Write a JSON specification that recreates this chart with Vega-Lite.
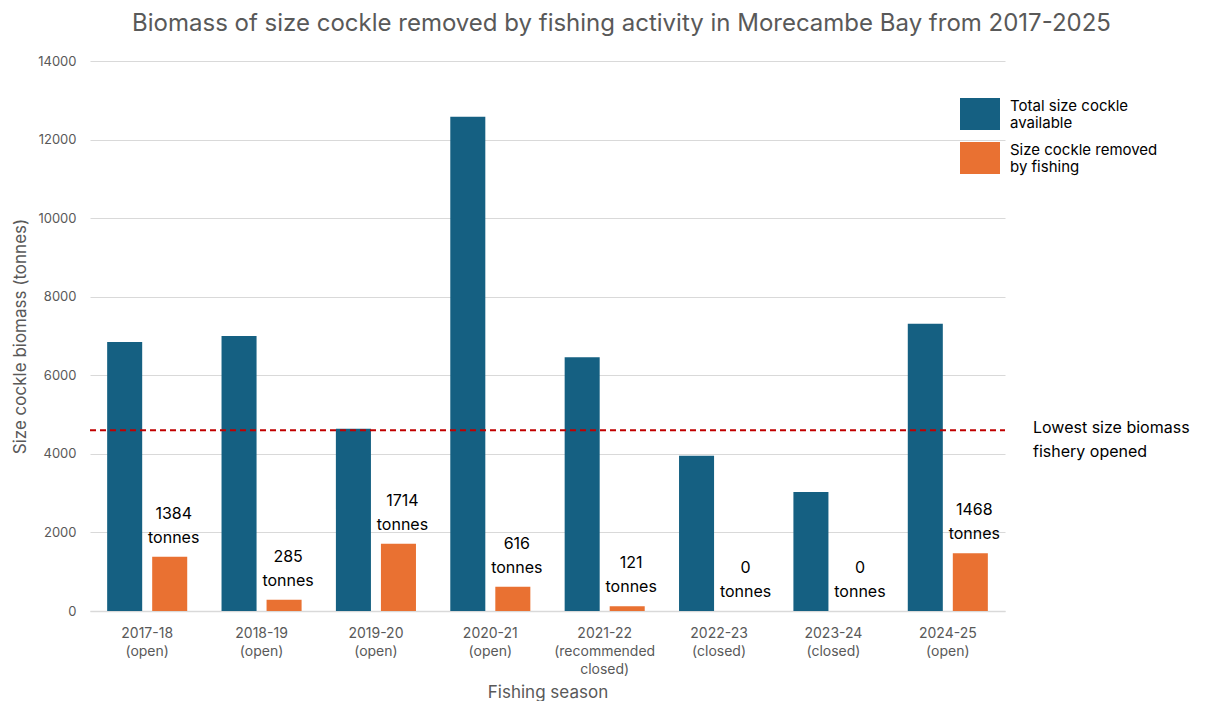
{
  "$schema": "https://vega.github.io/schema/vega-lite/v6.json",
  "width": 915,
  "height": 550,
  "autosize": {"type": "none"},
  "padding": {"left": 90, "top": 61, "right": 211, "bottom": 90},
  "background": "white",
  "config": {"font": "Inter", "view": {"stroke": null}},
  "title": {
    "text": "Biomass of size cockle removed by fishing activity in Morecambe Bay from 2017-2025",
    "fontSize": 24, "fontWeight": "normal", "color": "#595959",
    "anchor": "middle", "dx": 74, "baseline": "alphabetic", "offset": 0
  },
  "data": {"values": [
    {"season": "2017-18|(open)", "series": "Total size cockle available", "value": 6850},
    {"season": "2017-18|(open)", "series": "Size cockle removed by fishing", "value": 1384},
    {"season": "2018-19|(open)", "series": "Total size cockle available", "value": 7000},
    {"season": "2018-19|(open)", "series": "Size cockle removed by fishing", "value": 285},
    {"season": "2019-20|(open)", "series": "Total size cockle available", "value": 4640},
    {"season": "2019-20|(open)", "series": "Size cockle removed by fishing", "value": 1714},
    {"season": "2020-21|(open)", "series": "Total size cockle available", "value": 12580},
    {"season": "2020-21|(open)", "series": "Size cockle removed by fishing", "value": 616},
    {"season": "2021-22|(recommended|closed)", "series": "Total size cockle available", "value": 6460},
    {"season": "2021-22|(recommended|closed)", "series": "Size cockle removed by fishing", "value": 121},
    {"season": "2022-23|(closed)", "series": "Total size cockle available", "value": 3950},
    {"season": "2022-23|(closed)", "series": "Size cockle removed by fishing", "value": 0},
    {"season": "2023-24|(closed)", "series": "Total size cockle available", "value": 3030},
    {"season": "2023-24|(closed)", "series": "Size cockle removed by fishing", "value": 0},
    {"season": "2024-25|(open)", "series": "Total size cockle available", "value": 7310},
    {"season": "2024-25|(open)", "series": "Size cockle removed by fishing", "value": 1468}
  ]},
  "encoding": {
    "x": {
      "field": "season", "type": "nominal", "sort": null,
      "scale": {"paddingInner": 0.3, "paddingOuter": 0.15},
      "axis": {
        "title": "Fishing season", "titleFontSize": 17, "titleFontWeight": "normal", "titleColor": "#595959", "titlePadding": 8,
        "labelAngle": 0, "labelExpr": "split(datum.value, '|')", "labelFontSize": 14, "labelColor": "#595959",
        "labelLineHeight": 18, "labelPadding": 15, "ticks": false, "domainColor": "#d9d9d9", "domainWidth": 1.5
      }
    }
  },
  "layer": [
    {
      "mark": {"type": "bar"},
      "encoding": {
        "xOffset": {"field": "series", "type": "nominal", "sort": ["Total size cockle available", "Size cockle removed by fishing"], "scale": {"paddingInner": 0.222, "paddingOuter": 0}},
        "y": {
          "field": "value", "type": "quantitative",
          "scale": {"domain": [0, 14000], "nice": false},
          "axis": {
            "title": "Size cockle biomass (tonnes)", "titleFontSize": 17, "titleFontWeight": "normal", "titleColor": "#595959", "titlePadding": 8,
            "values": [0, 2000, 4000, 6000, 8000, 10000, 12000, 14000], "format": "d",
            "labelFontSize": 13, "labelColor": "#595959", "labelPadding": 14, "ticks": false, "domain": false,
            "gridColor": "#d9d9d9", "gridWidth": 1
          }
        },
        "color": {
          "field": "series", "type": "nominal",
          "scale": {"domain": ["Total size cockle available", "Size cockle removed by fishing"], "range": ["#156082", "#e97132"]},
          "legend": {
            "title": null, "orient": "none", "legendX": 874, "legendY": 37,
            "symbolType": "M-1.25,-1H1.25V1H-1.25Z", "symbolSize": 1024, "symbolStrokeWidth": 0, "symbolOpacity": 1,
            "labelExpr": "datum.label == 'Total size cockle available' ? ['Total size cockle', 'available'] : ['Size cockle removed', 'by fishing']",
            "labelFontSize": 15, "labelColor": "#000000", "labelBaseline": "bottom", "labelOffset": 14, "labelLimit": 300, "rowPadding": 11
          }
        }
      }
    },
    {
      "transform": [
        {"filter": "datum.series == 'Size cockle removed by fishing'"},
        {"calculate": "datum.value + '\\ntonnes'", "as": "label"}
      ],
      "mark": {"type": "text", "fontSize": 16, "color": "#000000", "baseline": "bottom", "dy": -35, "dx": 4, "lineBreak": "\n", "lineHeight": 24},
      "encoding": {
        "xOffset": {"field": "series", "type": "nominal", "sort": ["Total size cockle available", "Size cockle removed by fishing"], "scale": {"paddingInner": 0.222, "paddingOuter": 0}},
        "y": {"field": "value", "type": "quantitative"},
        "text": {"field": "label"}
      }
    },
    {
      "data": {"values": [{"threshold": 4600}]},
      "mark": {"type": "rule", "color": "#c00000", "strokeWidth": 2, "strokeDash": [6, 4]},
      "encoding": {"y": {"field": "threshold", "type": "quantitative"}, "x": {"value": 0}, "x2": {"value": "width"}}
    },
    {
      "data": {"values": [{"threshold": 4600}]},
      "mark": {"type": "text", "text": ["Lowest size biomass", "fishery opened"], "fontSize": 16, "color": "#000000", "align": "left", "baseline": "top", "dx": 28, "dy": -10, "lineHeight": 24},
      "encoding": {"y": {"field": "threshold", "type": "quantitative"}, "x": {"value": "width"}}
    }
  ]
}
